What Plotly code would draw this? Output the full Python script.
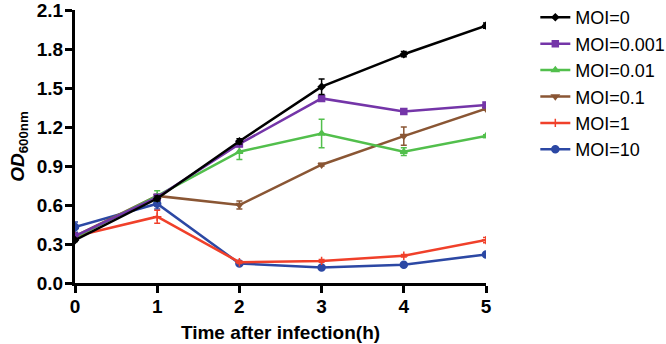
import plotly.graph_objects as go

time_h = [0, 1, 2, 3, 4, 5]
series_names = ["MOI=0", "MOI=0.001", "MOI=0.01", "MOI=0.1", "MOI=1", "MOI=10"]
moi_0 = [0.33, 0.65, 1.09, 1.51, 1.76, 1.98]
moi_0_err = [0.01, 0.02, 0.02, 0.06, 0.02, 0.02]
moi_0001 = [0.36, 0.66, 1.07, 1.42, 1.32, 1.37]
moi_0001_err = [0.01, 0.01, 0.02, 0.01, 0.01, 0.01]
moi_001 = [0.35, 0.67, 1.01, 1.15, 1.01, 1.13]
moi_001_err = [0.01, 0.04, 0.06, 0.11, 0.03, 0.01]
moi_01 = [0.36, 0.67, 0.60, 0.91, 1.13, 1.34]
moi_01_err = [0.01, 0.01, 0.03, 0.01, 0.07, 0.01]
moi_1 = [0.36, 0.51, 0.16, 0.17, 0.21, 0.33]
moi_1_err = [0.01, 0.05, 0.01, 0.01, 0.01, 0.02]
moi_10 = [0.43, 0.61, 0.15, 0.12, 0.14, 0.22]
moi_10_err = [0.04, 0.04, 0.01, 0.01, 0.01, 0.01]
y_ticks = [0.0, 0.3, 0.6, 0.9, 1.2, 1.5, 1.8, 2.1]

values = [moi_0, moi_0001, moi_001, moi_01, moi_1, moi_10]
errors = [moi_0_err, moi_0001_err, moi_001_err, moi_01_err, moi_1_err, moi_10_err]
colors = ["#000000", "#7435a8", "#52bf4c", "#8a5634", "#f0402a", "#2c48a4"]
symbols = ["diamond", "square", "triangle-up", "triangle-down", "cross-thin", "circle"]
sizes = [5, 6, 6, 6, 6, 7]

FONT = "Liberation Sans, Arial, sans-serif"

fig = go.Figure()
order = [5, 4, 3, 2, 1, 0]
for i in order:
    fig.add_trace(go.Scatter(
        x=time_h, y=values[i], name=series_names[i], mode="lines+markers",
        line=dict(color=colors[i], width=2.5),
        marker=dict(symbol=symbols[i], size=sizes[i], color=colors[i],
                    line=dict(color=colors[i], width=1.5)),
        error_y=dict(type="data", array=errors[i], color=colors[i], thickness=1.5, width=3),
        legendrank=i + 1,
    ))

# Figure is a little wider than the 666px window so the legend sits where the
# reference has it (its last label runs off the right edge there too).
fig.update_layout(
    width=710, height=344,
    margin=dict(l=75, r=224, t=10, b=61, autoexpand=False),
    plot_bgcolor="white", paper_bgcolor="white",
    font=dict(family=FONT, color="black"),
    legend=dict(x=1.12, y=1.04, xanchor="left", yanchor="top",
                font=dict(size=18, family=FONT), bgcolor="rgba(0,0,0,0)",
                tracegroupgap=0),
    showlegend=True,
)
fig.update_xaxes(
    range=[0, 5], tickvals=time_h, ticktext=[str(t) for t in time_h],
    showline=True, linecolor="black", linewidth=3, mirror=False,
    ticks="outside", ticklen=7, tickwidth=3, tickcolor="black",
    showgrid=False, zeroline=False, automargin=False, ticklabeloverflow="allow",
    ticklabelstandoff=-3,
    tickfont=dict(size=19, family=FONT, weight="bold"),
    title=dict(text="Time after infection(h)", font=dict(size=19, family=FONT, weight="bold"), standoff=10),
)
fig.update_yaxes(
    range=[0, 2.1], tickvals=y_ticks, ticktext=[f"{v:.1f}" for v in y_ticks],
    showline=True, linecolor="black", linewidth=3,
    ticks="outside", ticklen=7, tickwidth=3, tickcolor="black",
    showgrid=False, zeroline=False, automargin=False, ticklabeloverflow="allow",
    ticklabelstandoff=-2,
    tickfont=dict(size=19, family=FONT, weight="bold"),
    title=dict(text="<i>OD</i><sub>600nm</sub>", font=dict(size=19, family=FONT, weight="bold"), standoff=8),
)
fig.write_html(
    "out.html",
    config={"displayModeBar": False},
    post_script="document.body.style.margin='0';document.body.style.overflow='hidden';",
)
